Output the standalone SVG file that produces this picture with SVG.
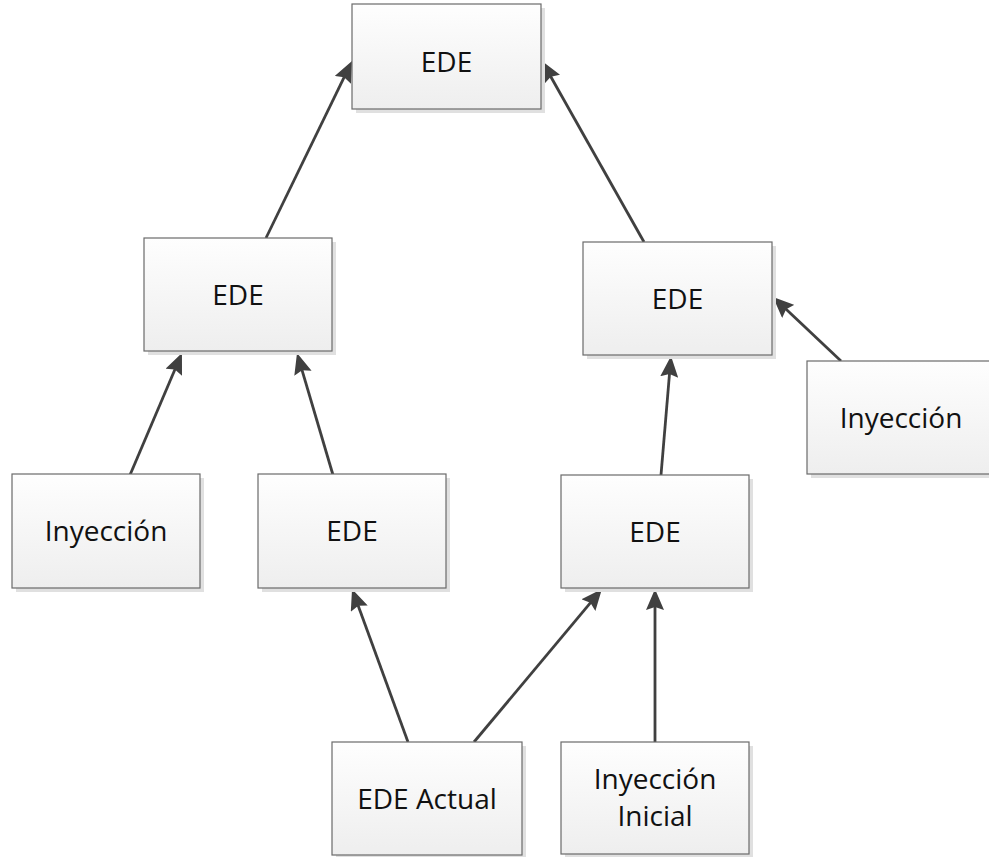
<svg xmlns="http://www.w3.org/2000/svg" width="989" height="857" viewBox="0 0 989 857">
  <defs>
    <linearGradient id="boxFill" x1="0" y1="0" x2="0" y2="1">
      <stop offset="0" stop-color="#fefefe"/>
      <stop offset="1" stop-color="#eeeeee"/>
    </linearGradient>
    <marker id="arrow" markerUnits="userSpaceOnUse" markerWidth="22" markerHeight="18" refX="15" refY="9" orient="auto" viewBox="0 0 22 18">
      <path d="M0,0 L21,9 L0,18 L3,9 Z" fill="#404040"/>
    </marker>
  </defs>
  <style>
    .shadow { fill: #e0e0e0; }
    .box { fill: url(#boxFill); stroke: #6a6a6a; stroke-width: 1.2; }
    .label { font-family: "Open Sans", "Noto Sans", "Liberation Sans", sans-serif; font-size: 28px; fill: #111; text-anchor: middle; }
    .edge { stroke: #404040; stroke-width: 2.8; fill: none; marker-end: url(#arrow); }
  </style>

  <rect width="989" height="857" fill="#ffffff"/>

  <!-- connectors -->
  <g id="connectors">
    <line class="edge" x1="266" y1="238" x2="349.4" y2="66.4"/>
    <line class="edge" x1="644" y1="242" x2="544.9" y2="66.2"/>
    <line class="edge" x1="130" y1="475" x2="179.6" y2="358.5"/>
    <line class="edge" x1="333" y1="475" x2="298.7" y2="358.8"/>
    <line class="edge" x1="661" y1="475" x2="670.5" y2="362"/>
    <line class="edge" x1="841" y1="361" x2="777.4" y2="301.1"/>
    <line class="edge" x1="408" y1="742" x2="354.1" y2="594.6"/>
    <line class="edge" x1="474" y1="742" x2="598.1" y2="593.6"/>
    <line class="edge" x1="655" y1="742" x2="655" y2="595"/>
  </g>

  <!-- nodes -->
  <g id="ede-top">
    <rect class="shadow" x="356" y="8" width="189" height="105"/>
    <rect class="box" x="352" y="4" width="189" height="105"/>
    <text class="label" x="446.5" y="72">EDE</text>
  </g>
  <g id="ede-left">
    <rect class="shadow" x="148" y="242" width="188" height="113"/>
    <rect class="box" x="144" y="238" width="188" height="113"/>
    <text class="label" x="238" y="304.5">EDE</text>
  </g>
  <g id="ede-right">
    <rect class="shadow" x="587" y="246" width="189" height="113"/>
    <rect class="box" x="583" y="242" width="189" height="113"/>
    <text class="label" x="677.5" y="308.5">EDE</text>
  </g>
  <g id="inyeccion-right">
    <rect class="shadow" x="811" y="365" width="188" height="113"/>
    <rect class="box" x="807" y="361" width="188" height="113"/>
    <text class="label" x="901" y="427.5">Inyección</text>
  </g>
  <g id="inyeccion-left">
    <rect class="shadow" x="16" y="478" width="188" height="114"/>
    <rect class="box" x="12" y="474" width="188" height="114"/>
    <text class="label" x="106" y="541">Inyección</text>
  </g>
  <g id="ede-lower-left">
    <rect class="shadow" x="262" y="478" width="188" height="114"/>
    <rect class="box" x="258" y="474" width="188" height="114"/>
    <text class="label" x="352" y="541">EDE</text>
  </g>
  <g id="ede-lower-right">
    <rect class="shadow" x="565" y="479" width="188" height="113"/>
    <rect class="box" x="561" y="475" width="188" height="113"/>
    <text class="label" x="655" y="541.5">EDE</text>
  </g>
  <g id="ede-actual">
    <rect class="shadow" x="336" y="746" width="190" height="113"/>
    <rect class="box" x="332" y="742" width="190" height="113"/>
    <text class="label" x="427" y="808.5">EDE Actual</text>
  </g>
  <g id="inyeccion-inicial">
    <rect class="shadow" x="565" y="746" width="188" height="112"/>
    <rect class="box" x="561" y="742" width="188" height="112"/>
    <text class="label" x="655" y="789">Inyección</text>
    <text class="label" x="655" y="826">Inicial</text>
  </g>
</svg>
